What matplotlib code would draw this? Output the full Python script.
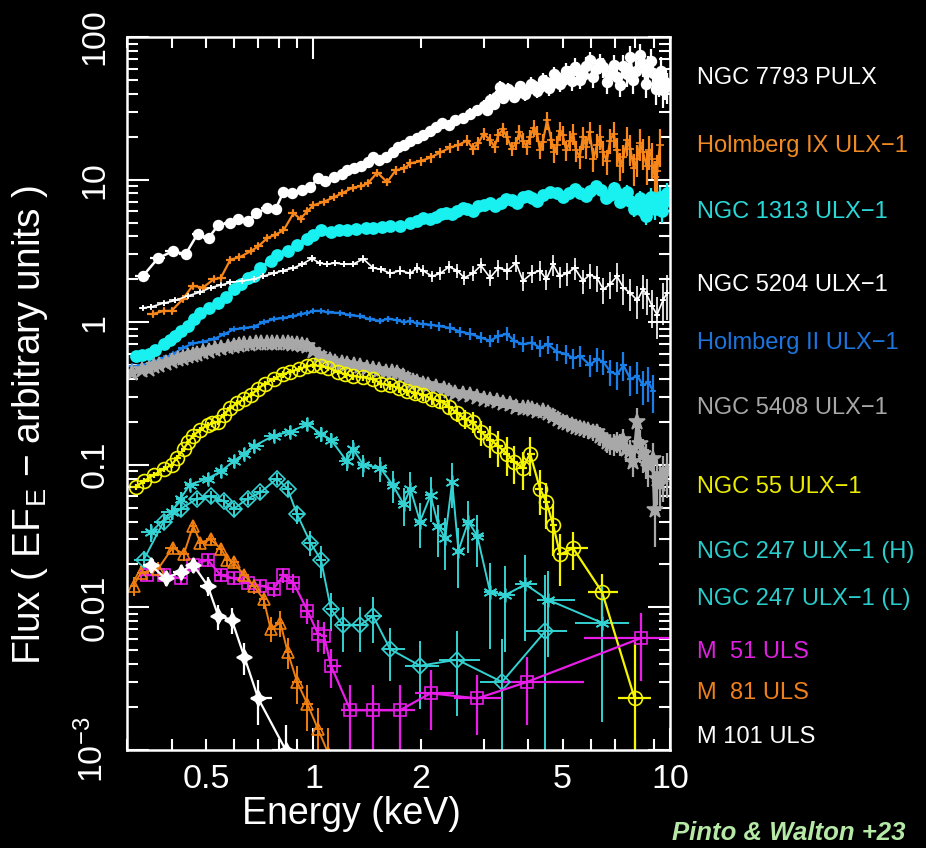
import matplotlib.pyplot as plt
import numpy as np
from matplotlib.ticker import FixedLocator, FuncFormatter

plt.rcParams['font.family'] = ['Liberation Sans', 'DejaVu Sans']
plt.rcParams['mathtext.fontset'] = 'custom'
plt.rcParams['mathtext.rm'] = 'Liberation Sans'
plt.rcParams['mathtext.it'] = 'Liberation Sans:italic'

# each spectrum: (energy keV, flux, fractional error)
ngc7793 = [(0.332, 2.1, .06), (0.366, 2.8, .06), (0.403, 3.15, .06), (0.438, 3.0, .06), (0.473, 4.15, .06),
           (0.508, 3.9, .06), (0.541, 4.8, .06), (0.585, 5.0, .06), (0.613, 5.3, .06), (0.654, 5.1, .06),
           (0.688, 5.8, .06), (0.743, 6.3, .06), (0.783, 6.2, .06), (0.824, 8.2, .06), (0.873, 8.0, .06),
           (0.931, 8.4, .06), (0.98, 8.9, .06), (1.03, 10.2, .06), (1.08, 9.8, .06), (1.14, 10.5, .06),
           (1.2, 11.0, .07), (1.24, 11.6, .07), (1.3, 12.0, .07), (1.36, 12.5, .07), (1.42, 13.2, .07),
           (1.47, 14.3, .07), (1.53, 13.8, .07), (1.6, 14.5, .07), (1.67, 15.5, .07), (1.73, 16.8, .07),
           (1.8, 17.5, .08), (1.87, 18.8, .08), (1.95, 19.5, .08), (2.03, 20.5, .08), (2.12, 22.0, .08),
           (2.2, 23.5, .08), (2.3, 24.8, .08), (2.4, 24.0, .08), (2.5, 26.0, .08), (2.63, 26.9, .08),
           (2.75, 29.0, .09), (2.88, 30.6, .09), (3.0, 33.0, .1), (3.07, 31.0, .1), (3.13, 36.0, .1),
           (3.2, 34.0, .1), (3.25, 38.0, .1), (3.34, 44.5, .1), (3.4, 37.5, .1), (3.45, 40.0, .1),
           (3.52, 43.0, .1), (3.6, 41.0, .1), (3.66, 38.0, .1), (3.72, 40.4, .1), (3.8, 45.0, .1),
           (3.85, 42.0, .1), (3.92, 40.0, .11), (4.0, 43.0, .11), (4.07, 47.0, .11), (4.15, 45.0, .11),
           (4.24, 42.0, .11), (4.32, 44.5, .11), (4.4, 50.0, .12), (4.5, 48.0, .12), (4.58, 44.0, .12),
           (4.65, 47.0, .12), (4.74, 55.0, .12), (4.82, 52.3, .12), (4.9, 47.0, .13), (5.0, 50.0, .13),
           (5.1, 58.0, .13), (5.2, 55.0, .13), (5.3, 49.0, .14), (5.4, 62.0, .14), (5.49, 58.6, .14),
           (5.6, 50.0, .14), (5.7, 54.0, .14), (5.82, 63.0, .15), (5.96, 68.8, .15), (6.08, 52.0, .15),
           (6.2, 60.0, .15), (6.35, 66.0, .16), (6.49, 61.5, .16), (6.65, 48.0, .17), (6.8, 55.0, .17),
           (6.95, 64.0, .17), (7.11, 52.3, .18), (7.25, 46.0, .18), (7.4, 63.0, .18), (7.57, 55.0, .19),
           (7.74, 72.3, .2), (7.9, 50.0, .2), (8.05, 58.0, .2), (8.22, 75.0, .2), (8.4, 65.0, .2),
           (8.55, 47.0, .21), (8.7, 60.0, .22), (8.83, 68.0, .22), (8.96, 55.8, .22), (9.13, 43.0, .23),
           (9.3, 50.0, .24), (9.42, 58.0, .24), (9.55, 42.4, .25), (9.68, 48.0, .25), (9.8, 45.0, .25)]

holmix = [(0.354, 1.14, .05), (0.38, 1.2, .05), (0.4, 1.2, .05), (0.43, 1.45, .05), (0.458, 1.8, .05),
          (0.49, 1.75, .05), (0.525, 2.0, .05), (0.55, 2.05, .05), (0.585, 2.75, .05), (0.62, 2.85, .05),
          (0.667, 3.15, .05), (0.7, 3.4, .05), (0.743, 3.9, .05), (0.78, 4.1, .05), (0.824, 4.4, .05),
          (0.879, 5.8, .05), (0.92, 5.3, .05), (0.96, 6.0, .05), (1.0, 6.6, .05), (1.07, 7.0, .05),
          (1.14, 7.5, .05), (1.2, 8.0, .06), (1.29, 8.8, .06), (1.36, 9.0, .06), (1.42, 9.4, .06),
          (1.51, 11.2, .06), (1.61, 9.6, .06), (1.7, 11.6, .07), (1.8, 12.0, .07), (1.87, 13.0, .07),
          (2.0, 13.5, .07), (2.13, 14.3, .08), (2.27, 15.5, .08), (2.42, 16.8, .08), (2.55, 17.5, .09),
          (2.7, 18.8, .09), (2.8, 16.5, .1), (2.9, 18.0, .1), (3.0, 21.0, .1), (3.13, 19.0, .1),
          (3.22, 17.0, .1), (3.3, 20.5, .1), (3.4, 22.5, .11), (3.49, 19.8, .11), (3.6, 16.5, .11),
          (3.7, 18.0, .11), (3.78, 21.5, .12), (3.87, 18.8, .12), (3.96, 17.0, .12), (4.05, 20.0, .12),
          (4.15, 23.0, .13), (4.24, 21.0, .13), (4.32, 16.0, .13), (4.4, 18.5, .13), (4.52, 26.0, .14),
          (4.65, 19.0, .14), (4.74, 15.5, .15), (4.82, 17.5, .15), (4.9, 22.0, .15), (5.0, 20.5, .15),
          (5.12, 16.0, .16), (5.25, 18.8, .16), (5.35, 21.0, .17), (5.45, 16.0, .17), (5.58, 14.5, .18),
          (5.7, 19.8, .18), (5.82, 17.0, .18), (5.95, 21.5, .18), (6.1, 14.0, .19), (6.24, 17.5, .19),
          (6.37, 20.0, .2), (6.5, 15.5, .2), (6.65, 13.5, .2), (6.79, 18.8, .2), (6.95, 21.0, .21),
          (7.1, 16.0, .22), (7.25, 12.5, .22), (7.4, 14.3, .22), (7.57, 19.0, .23), (7.74, 16.5, .24),
          (7.92, 12.0, .25), (8.1, 14.0, .25), (8.25, 18.0, .25), (8.4, 15.5, .25), (8.6, 12.5, .27),
          (8.75, 16.0, .27), (8.9, 14.0, .28), (9.05, 10.5, .29), (9.2, 11.5, .3), (9.37, 17.5, .3)]

ngc1313 = [(0.317, 0.58, .03), (0.33, 0.59, .03), (0.345, 0.6, .03), (0.36, 0.64, .03), (0.38, 0.70, .03),
           (0.395, 0.75, .03), (0.41, 0.80, .03), (0.425, 0.87, .03), (0.444, 0.94, .03), (0.462, 1.05, .03),
           (0.482, 1.16, .03), (0.51, 1.26, .03), (0.539, 1.36, .03), (0.567, 1.5, .03), (0.597, 1.7, .03),
           (0.625, 1.85, .03), (0.654, 2.05, .03), (0.68, 2.1, .03), (0.71, 2.4, .03), (0.758, 2.7, .03),
           (0.79, 2.95, .03), (0.846, 3.15, .03), (0.9, 3.5, .03), (0.962, 3.85, .03), (1.0, 4.1, .03),
           (1.05, 4.4, .03), (1.12, 4.3, .03), (1.18, 4.45, .03), (1.24, 4.4, .03), (1.32, 4.5, .03),
           (1.4, 4.55, .03), (1.47, 4.6, .03), (1.56, 4.65, .03), (1.64, 4.7, .03), (1.75, 4.75, .03),
           (1.87, 5.0, .04), (1.95, 5.1, .04), (2.03, 5.4, .04), (2.12, 5.3, .04), (2.2, 5.5, .04),
           (2.28, 5.7, .04), (2.35, 5.8, .04), (2.45, 5.7, .04), (2.53, 6.0, .04), (2.62, 6.3, .04),
           (2.7, 6.2, .04), (2.8, 6.0, .05), (2.9, 6.5, .05), (3.0, 6.6, .05), (3.13, 6.8, .05),
           (3.23, 6.5, .05), (3.35, 6.9, .05), (3.47, 7.3, .05), (3.6, 7.2, .05), (3.73, 6.9, .05),
           (3.87, 7.5, .05), (4.0, 7.7, .06), (4.1, 7.4, .06), (4.25, 7.1, .06), (4.4, 7.8, .06),
           (4.6, 8.2, .06), (4.82, 8.0, .06), (5.0, 7.6, .07), (5.2, 8.1, .07), (5.4, 8.6, .07),
           (5.6, 8.0, .07), (5.8, 7.7, .08), (5.96, 8.3, .08), (6.2, 9.0, .08), (6.4, 8.5, .08),
           (6.6, 7.4, .09), (6.8, 7.8, .09), (6.95, 8.8, .1), (7.1, 8.0, .1), (7.25, 7.0, .1),
           (7.4, 7.5, .1), (7.57, 8.2, .11), (7.74, 7.1, .11), (7.92, 6.2, .12), (8.1, 6.5, .12),
           (8.25, 7.4, .13), (8.4, 6.0, .13), (8.55, 5.6, .14), (8.7, 6.6, .14), (8.85, 7.6, .15),
           (9.0, 7.0, .15), (9.1, 6.2, .16), (9.2, 6.8, .16), (9.35, 7.6, .17), (9.5, 6.0, .17),
           (9.65, 7.0, .18), (9.8, 8.0, .18)]

ngc5204 = [(0.332, 1.26, .04), (0.35, 1.28, .04), (0.38, 1.36, .04), (0.41, 1.42, .04), (0.444, 1.53, .04),
           (0.48, 1.62, .04), (0.515, 1.75, .04), (0.55, 1.82, .04), (0.585, 1.9, .04), (0.63, 1.95, .04),
           (0.68, 2.0, .04), (0.72, 2.1, .04), (0.773, 2.2, .04), (0.82, 2.3, .04), (0.879, 2.4, .04),
           (0.93, 2.55, .04), (0.99, 2.8, .05), (1.04, 2.6, .05), (1.09, 2.55, .05), (1.15, 2.6, .05),
           (1.22, 2.55, .05), (1.29, 2.55, .05), (1.38, 2.78, .06), (1.47, 2.4, .06), (1.55, 2.35, .06),
           (1.64, 2.2, .07), (1.75, 2.3, .07), (1.87, 2.2, .08), (1.95, 2.4, .08), (2.03, 2.3, .09),
           (2.15, 2.1, .09), (2.27, 2.2, .1), (2.4, 2.45, .1), (2.53, 2.3, .11), (2.65, 2.05, .11),
           (2.8, 2.2, .12), (2.95, 2.5, .12), (3.13, 2.05, .13), (3.3, 2.4, .13), (3.5, 2.3, .14),
           (3.7, 2.6, .14), (3.87, 1.95, .15), (4.1, 2.2, .15), (4.32, 2.3, .16), (4.5, 2.0, .16),
           (4.7, 2.55, .17), (4.9, 2.1, .17), (5.14, 2.2, .18), (5.4, 2.4, .18), (5.7, 1.95, .19),
           (5.95, 2.15, .2), (6.24, 2.05, .2), (6.5, 1.7, .21), (6.79, 1.85, .22), (7.1, 2.1, .23),
           (7.4, 1.75, .24), (7.74, 1.6, .25), (8.1, 1.42, .26), (8.4, 1.7, .27), (8.6, 1.57, .28),
           (8.9, 1.3, .3), (9.2, 1.13, .32), (9.55, 1.42, .33), (9.8, 1.6, .35)]

holmii = [(0.31, 0.49, .03), (0.33, 0.5, .03), (0.357, 0.53, .03), (0.38, 0.56, .03), (0.405, 0.6, .03),
          (0.43, 0.66, .03), (0.46, 0.71, .03), (0.49, 0.73, .03), (0.525, 0.76, .03), (0.56, 0.82, .03),
          (0.597, 0.89, .03), (0.64, 0.91, .03), (0.68, 0.93, .03), (0.725, 1.0, .03), (0.773, 1.05, .03),
          (0.82, 1.07, .03), (0.879, 1.1, .03), (0.92, 1.14, .03), (0.962, 1.16, .03), (1.0, 1.2, .03),
          (1.05, 1.2, .03), (1.1, 1.17, .03), (1.19, 1.16, .04), (1.27, 1.12, .04), (1.35, 1.1, .04),
          (1.44, 1.05, .04), (1.54, 1.02, .05), (1.62, 1.06, .05), (1.72, 1.03, .05), (1.8, 1.0, .05),
          (1.87, 1.02, .06), (1.95, 0.98, .06), (2.03, 0.97, .06), (2.13, 0.96, .07), (2.25, 0.94, .07),
          (2.42, 0.91, .08), (2.58, 0.86, .08), (2.75, 0.83, .09), (2.95, 0.78, .09), (3.13, 0.74, .1),
          (3.3, 0.8, .1), (3.49, 0.83, .11), (3.65, 0.74, .11), (3.87, 0.70, .12), (4.1, 0.72, .12),
          (4.32, 0.66, .13), (4.55, 0.7, .14), (4.82, 0.62, .14), (5.1, 0.6, .15), (5.35, 0.56, .16),
          (5.6, 0.58, .17), (5.96, 0.5, .18), (6.24, 0.55, .19), (6.49, 0.53, .2), (6.8, 0.45, .21),
          (7.11, 0.43, .22), (7.4, 0.5, .23), (7.74, 0.40, .24), (8.1, 0.42, .25), (8.4, 0.36, .27),
          (8.7, 0.38, .28), (8.96, 0.33, .3)]

ngc5408 = [(0.31, 0.44, .04), (0.33, 0.46, .04), (0.345, 0.47, .04), (0.357, 0.49, .04), (0.37, 0.5, .04),
           (0.385, 0.52, .04), (0.4, 0.535, .04), (0.416, 0.55, .04), (0.43, 0.565, .04), (0.445, 0.58, .04),
           (0.458, 0.59, .04), (0.472, 0.60, .04), (0.49, 0.615, .04), (0.51, 0.63, .04), (0.53, 0.645, .04),
           (0.55, 0.66, .04), (0.575, 0.67, .04), (0.6, 0.68, .04), (0.62, 0.69, .04), (0.64, 0.70, .04),
           (0.665, 0.705, .04), (0.69, 0.71, .04), (0.715, 0.71, .04), (0.743, 0.71, .04), (0.765, 0.715, .04),
           (0.79, 0.72, .04), (0.82, 0.715, .04), (0.846, 0.71, .04), (0.87, 0.705, .04), (0.9, 0.70, .04),
           (0.93, 0.69, .04), (0.962, 0.68, .04), (1.0, 0.63, .04), (1.035, 0.59, .04), (1.07, 0.56, .04),
           (1.11, 0.545, .04), (1.15, 0.53, .04), (1.2, 0.52, .04), (1.24, 0.51, .04), (1.3, 0.5, .04),
           (1.35, 0.49, .04), (1.41, 0.48, .04), (1.47, 0.47, .04), (1.53, 0.46, .04), (1.6, 0.45, .04),
           (1.66, 0.445, .05), (1.72, 0.44, .05), (1.78, 0.42, .05), (1.84, 0.40, .05), (1.9, 0.39, .05),
           (1.95, 0.38, .05), (2.03, 0.37, .05), (2.1, 0.36, .05), (2.2, 0.35, .05), (2.32, 0.34, .05),
           (2.4, 0.33, .06), (2.5, 0.32, .06), (2.62, 0.315, .06), (2.75, 0.31, .06), (2.87, 0.3, .06),
           (3.0, 0.29, .06), (3.13, 0.285, .07), (3.27, 0.28, .07), (3.4, 0.27, .07), (3.55, 0.265, .07),
           (3.7, 0.255, .08), (3.87, 0.25, .08), (4.0, 0.25, .08), (4.1, 0.245, .08), (4.25, 0.24, .09),
           (4.4, 0.24, .09), (4.55, 0.23, .1), (4.7, 0.22, .1), (4.85, 0.21, .1), (5.0, 0.20, .1),
           (5.15, 0.195, .11), (5.3, 0.19, .11), (5.45, 0.185, .12), (5.59, 0.18, .12), (5.75, 0.178, .13),
           (5.9, 0.175, .13), (6.07, 0.17, .14), (6.24, 0.17, .14), (6.37, 0.16, .15), (6.5, 0.155, .15),
           (6.65, 0.145, .16), (6.79, 0.14, .16), (6.95, 0.14, .17), (7.1, 0.145, .17), (7.25, 0.14, .18),
           (7.4, 0.15, .18), (7.55, 0.13, .19), (7.7, 0.125, .2), (7.9, 0.105, .22), (8.1, 0.20, .25),
           (8.25, 0.14, .26), (8.4, 0.12, .27), (8.55, 0.11, .28), (8.7, 0.10, .3), (8.96, 0.11, .3),
           (9.06, 0.048, .45), (9.2, 0.08, .35), (9.37, 0.073, .35), (9.55, 0.085, .35), (9.8, 0.09, .35)]

ngc55 = [(0.317, 0.07, .05), (0.335, 0.077, .05), (0.357, 0.085, .05), (0.38, 0.093, .05), (0.4, 0.1, .05),
         (0.415, 0.112, .05), (0.433, 0.13, .05), (0.446, 0.145, .05), (0.46, 0.16, .05), (0.48, 0.175, .05),
         (0.505, 0.19, .05), (0.52, 0.195, .05), (0.539, 0.2, .05), (0.56, 0.225, .05), (0.585, 0.25, .05),
         (0.61, 0.27, .05), (0.64, 0.29, .05), (0.67, 0.31, .05), (0.697, 0.34, .05), (0.73, 0.37, .05),
         (0.773, 0.40, .05), (0.82, 0.43, .05), (0.862, 0.45, .05), (0.91, 0.47, .05), (0.962, 0.49, .05),
         (1.0, 0.5, .05), (1.05, 0.49, .05), (1.1, 0.48, .05), (1.17, 0.45, .05), (1.23, 0.43, .05),
         (1.29, 0.42, .06), (1.38, 0.41, .06), (1.47, 0.40, .06), (1.55, 0.37, .07), (1.64, 0.36, .07),
         (1.74, 0.345, .08), (1.83, 0.33, .08), (1.93, 0.32, .09), (2.03, 0.31, .1), (2.15, 0.29, .1),
         (2.27, 0.28, .11), (2.4, 0.255, .12), (2.53, 0.23, .13), (2.66, 0.21, .15), (2.8, 0.2, .17),
         (2.95, 0.17, .2), (3.13, 0.15, .25), (3.3, 0.135, .28), (3.49, 0.12, .3), (3.65, 0.105, .3),
         (3.87, 0.095, .3), (4.05, 0.12, .3), (4.32, 0.068, .35), (4.5, 0.055, .35), (4.7, 0.038, .4),
         (4.92, 0.0235, .4), (5.35, 0.026, .3), (6.45, 0.0128, .35), (7.96, 0.0023, 1.5)]

ngc247_h = [(0.35, 0.0337, .15), (0.4, 0.0465, .12), (0.424, 0.058, .12), (0.45, 0.0725, .1), (0.505, 0.08, .1),
            (0.55, 0.09, .1), (0.597, 0.106, .1), (0.64, 0.12, .1), (0.68, 0.135, .1), (0.773, 0.16, .1),
            (0.862, 0.171, .1), (0.962, 0.193, .1), (1.05, 0.165, .12), (1.12, 0.15, .12), (1.24, 0.106, .15),
            (1.29, 0.13, .15), (1.38, 0.1, .18), (1.54, 0.095, .2), (1.67, 0.072, .25), (1.79, 0.053, .3),
            (1.87, 0.068, .3), (1.99, 0.04, .35), (2.13, 0.061, .35), (2.24, 0.0375, .4), (2.34, 0.0305, .4),
            (2.45, 0.076, .35), (2.55, 0.025, .45), (2.72, 0.04, .4), (2.88, 0.0318, .4), (3.13, 0.0128, .6),
            (3.45, 0.0122, .6), (3.93, 0.0145, .6), (4.55, 0.0113, .6), (6.45, 0.0078, .8)]

ngc247_l = [(0.334, 0.0215, .15), (0.38, 0.04, .12), (0.424, 0.049, .12), (0.472, 0.058, .1), (0.515, 0.06, .1),
            (0.56, 0.056, .1), (0.597, 0.049, .1), (0.654, 0.058, .1), (0.71, 0.064, .1), (0.79, 0.08, .1),
            (0.846, 0.068, .12), (0.9, 0.045, .15), (0.98, 0.0285, .2), (1.05, 0.0215, .25), (1.12, 0.0097, .3),
            (1.21, 0.0075, .35), (1.35, 0.0075, .35), (1.47, 0.0087, .35), (1.64, 0.0051, .4), (1.99, 0.0039, .5),
            (2.53, 0.0043, .6), (3.38, 0.003, 1.0), (4.47, 0.0068, 1.5)]

m51 = [(0.342, 0.0169, .1), (0.38, 0.0168, .1), (0.424, 0.016, .1), (0.46, 0.0199, .1), (0.505, 0.0215, .1),
       (0.55, 0.0168, .1), (0.597, 0.016, .1), (0.654, 0.0149, .1), (0.71, 0.0142, .1), (0.773, 0.0135, .12),
       (0.824, 0.0168, .12), (0.879, 0.0149, .15), (0.962, 0.0095, .2), (1.03, 0.0065, .25), (1.07, 0.0063, .25),
       (1.12, 0.0039, .3), (1.27, 0.0019, .5), (1.47, 0.0019, .5), (1.75, 0.0019, .5), (2.13, 0.0025, .45),
       (2.88, 0.0023, .45), (3.97, 0.003, .5), (8.3, 0.0061, .5)]

m81 = [(0.313, 0.0142, .15), (0.328, 0.0175, .12), (0.366, 0.0185, .12), (0.403, 0.0263, .1), (0.433, 0.0236, .1),
       (0.46, 0.0375, .1), (0.482, 0.0285, .1), (0.515, 0.03, .1), (0.55, 0.0258, .1), (0.574, 0.0216, .1),
       (0.597, 0.0207, .1), (0.64, 0.0168, .1), (0.68, 0.0142, .12), (0.725, 0.0114, .15), (0.758, 0.0071, .2),
       (0.808, 0.0078, .2), (0.846, 0.0049, .25), (0.9, 0.003, .3), (0.962, 0.0021, .35), (1.03, 0.0014, .4),
       (1.1, 0.00095, .5)]

m101 = [(0.35, 0.0197, .12), (0.385, 0.016, .12), (0.424, 0.0177, .12), (0.46, 0.0199, .12), (0.505, 0.0142, .15),
        (0.541, 0.0087, .2), (0.59, 0.0082, .2), (0.64, 0.0045, .25), (0.7, 0.0023, .35), (0.836, 0.001, .5)]

names = ['NGC 7793 PULX', 'Holmberg IX ULX\u22121', 'NGC 1313 ULX\u22121', 'NGC 5204 ULX\u22121',
         'Holmberg II ULX\u22121', 'NGC 5408 ULX\u22121', 'NGC 55 ULX\u22121', 'NGC 247 ULX\u22121 (H)',
         'NGC 247 ULX\u22121 (L)', 'M  51 ULS', 'M  81 ULS', 'M 101 ULS']
spectra = [ngc7793, holmix, ngc1313, ngc5204, holmii, ngc5408, ngc55, ngc247_h, ngc247_l, m51, m81, m101]

# color, marker, marker size, filled, line width, label color
styles = [
    ('#ffffff', 'o', 7, True, 1.8, '#ffffff'),
    ('#f7861b', '+', 6, True, 1.6, '#f08a24'),
    ('#19f0f0', 'o', 8, True, 2.5, '#2ad8d8'),
    ('#ffffff', '+', 4, True, 1.2, '#ffffff'),
    ('#1a7ee8', '+', 5, True, 1.6, '#1c74dc'),
    ('#a8a8a8', '*', 12, True, 2.5, '#a8a8a8'),
    ('#f5f500', 'o', 10, False, 1.6, '#ecec00'),
    ('#34d2d2', (6, 2, 0), 10, True, 1.4, '#2acccc'),
    ('#34d2d2', 'D', 8, False, 1.4, '#2acccc'),
    ('#e81ee8', 's', 9, False, 1.6, '#e020e0'),
    ('#f07f10', '^', 9, False, 1.4, '#f0801c'),
    ('#ffffff', (4, 1, 0), 11, True, 1.6, '#ffffff'),
]
label_y = [78, 146, 212, 285, 343, 408, 487, 552, 599, 652, 693, 737]

W, H = 926, 848
fig = plt.figure(figsize=(W / 100, H / 100), dpi=100)
fig.patch.set_facecolor('black')
ax = fig.add_axes([127 / W, 1 - 750 / H, 543 / W, 713 / H])
ax.set_facecolor('black')
ax.set_xscale('log')
ax.set_yscale('log')

for data, (col, mk, ms, filled, lw, lc) in zip(spectra, styles):
    e = np.array([d[0] for d in data])
    f = np.array([d[1] for d in data])
    r = np.array([d[2] for d in data])
    mid = np.sqrt(e[1:] * e[:-1])
    lo = np.concatenate([[e[0] ** 2 / mid[0]], mid])
    hi = np.concatenate([mid, [e[-1] ** 2 / mid[-1]]])
    ax.errorbar(e, f, xerr=[e - lo, hi - e], yerr=r * f, color=col, lw=lw, elinewidth=min(lw, 1.6),
                marker=mk, ms=ms, mfc=col if filled else 'none', mec=col, mew=1.2, capsize=0)

for name, (col, mk, ms, filled, lw, lc), yy in zip(names, styles, label_y):
    fig.text(697 / W, 1 - yy / H, name, color=lc, fontsize=17, ha='left', va='center')

ax.set_xlim(0.3, 10)
ax.set_ylim(1e-3, 100)

ax.xaxis.set_major_locator(FixedLocator([1, 10]))
ax.xaxis.set_minor_locator(FixedLocator([0.3, 0.4, 0.5, 0.6, 0.7, 0.8, 0.9, 2, 3, 4, 5, 6, 7, 8, 9]))
ax.xaxis.set_major_formatter(FuncFormatter(lambda v, p: '%g' % v))
ax.xaxis.set_minor_formatter(FuncFormatter(lambda v, p: '%g' % v if round(v, 2) in (0.5, 2, 5) else ''))

ylabels = {1e-3: r'$10^{-3}$', 1e-2: '0.01', 1e-1: '0.1', 1: '1', 10: '10', 100: '100'}
ax.yaxis.set_major_locator(FixedLocator(list(ylabels.keys())))
ax.yaxis.set_major_formatter(FuncFormatter(lambda v, p: min(ylabels.items(), key=lambda kv: abs(np.log10(kv[0]) - np.log10(v)))[1]))
yminor = [m * 10.0 ** k for k in range(-3, 2) for m in range(2, 10)]
ax.yaxis.set_minor_locator(FixedLocator(yminor))

ax.tick_params(which='both', direction='in', color='white', labelcolor='white', top=True, right=True, width=1.5)
ax.tick_params(which='major', length=16, labelsize=24.5)
ax.tick_params(which='minor', length=8, labelsize=24.5)
ax.tick_params(axis='x', which='both', pad=10)
ax.tick_params(axis='y', which='both', pad=12)
for lab in ax.get_yticklabels():
    lab.set_rotation(90)
    lab.set_va('center')
for sp in ax.spines.values():
    sp.set_color('white')
    sp.set_linewidth(1.8)

fig.text(351 / W, 1 - 814 / H, 'Energy (keV)', color='white', fontsize=27, ha='center', va='center')
fig.text(30 / W, 1 - 425 / H, r'Flux ( EF$_\mathregular{E}$ $-$ arbitrary units )', color='white',
         fontsize=28, rotation=90, ha='center', va='center')
fig.text(905 / W, 1 - 833 / H, 'Pinto & Walton +23', color='#b6e8a6', fontsize=18.5,
         fontweight='bold', fontstyle='italic', ha='right', va='center')

fig.savefig('out.png', dpi=100, facecolor='black')
